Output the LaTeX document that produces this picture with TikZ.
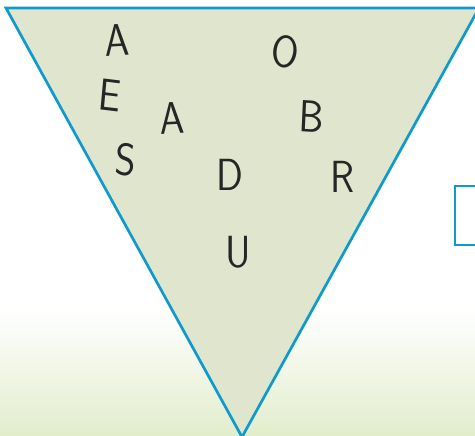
\documentclass[tikz,border=0pt]{standalone}
\usepackage{tikz}
\usetikzlibrary{positioning}

\definecolor{borde}{HTML}{0E9ACB}
\definecolor{relleno}{HTML}{DFE6CD}
\definecolor{suelo}{HTML}{E2EDCC}

\begin{document}
\begin{tikzpicture}[
    x=1pt, y=-1pt,
    letra/.style={inner sep=0pt, text=black!85, xscale=0.88, font=\fontsize{45}{45}\selectfont\sffamily},
    lado/.style={draw=borde, line width=2.7pt}
]

\useasboundingbox (0,0) rectangle (475,436);
\clip (0,0) rectangle (475,436);

% Fondo
\shade[top color=white, bottom color=suelo] (0,308) rectangle (475,436);

% Triangulo
\coordinate (T1) at (6,8);
\coordinate (T2) at (479,8);
\coordinate (T3) at (242,437);
\filldraw[lado, fill=relleno, line join=miter] (T1) -- (T2) -- (T3) -- cycle;

% Caja a la derecha
\coordinate (c1) at (455,186);
\coordinate (c2) at (490,245);
\draw[lado, line width=2.2pt] (c1) rectangle (c2);

% Letras
\node[letra, rotate=3] (a1) at (117,40) {A};
\node[letra, rotate=-6] (e1) at (110,95) {E};
\node[letra, rotate=3] (a2) at (172,118) {A};
\node[letra, rotate=-4] (s1) at (126,160) {S};
\node[letra] (d1) at (230,175) {D};
\node[letra] (u1) at (238,252) {U};
\node[letra, rotate=-10] (o1) at (285,52) {O};
\node[letra, rotate=-3] (b1) at (312,117) {B};
\node[letra] (r1) at (342,177) {R};

\end{tikzpicture}
\end{document}
